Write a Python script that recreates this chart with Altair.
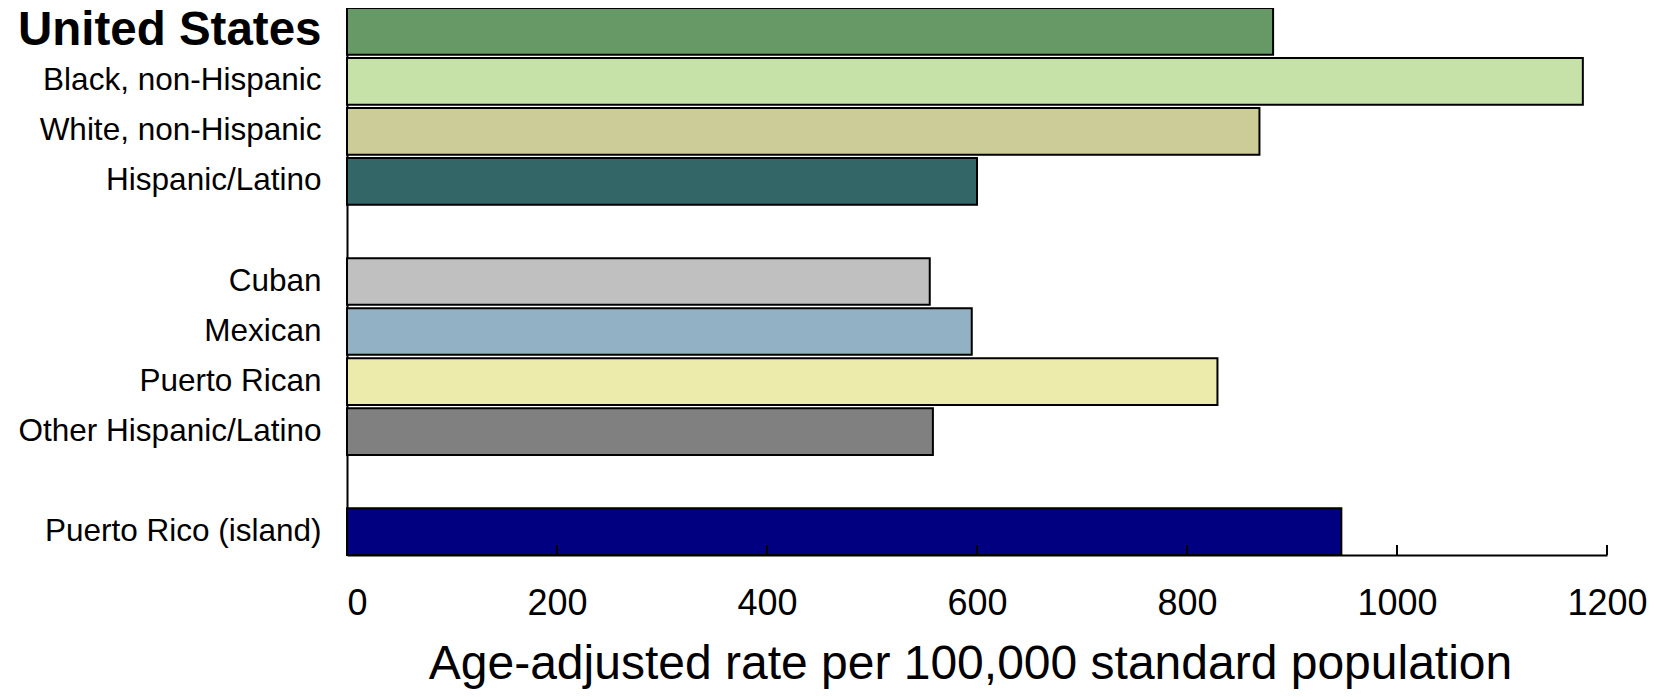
import altair as alt
import pandas as pd

# ---- data ----
categories = ["United States", "Black, non-Hispanic", "White, non-Hispanic", "Hispanic/Latino",
              "Cuban", "Mexican", "Puerto Rican", "Other Hispanic/Latino", "Puerto Rico (island)"]
values = [882, 1177, 869, 600, 555, 595, 829, 558, 947]
colors = ["#669966", "#C6E2A8", "#CCCC99", "#336666", "#C0C0C0", "#93B1C4", "#ECEBAC", "#808080", "#000080"]
row_order = ["United States", "Black, non-Hispanic", "White, non-Hispanic", "Hispanic/Latino", "gap1",
             "Cuban", "Mexican", "Puerto Rican", "Other Hispanic/Latino", "gap2", "Puerto Rico (island)"]
tick_values = [0, 200, 400, 600, 800, 1000, 1200]
x_title = "Age-adjusted rate per 100,000 standard population"

df = pd.DataFrame({"group": categories, "rate": values})
ticks_df = pd.DataFrame({"t": tick_values[1:]})

W, H = 1260, 547
FONT = "Liberation Sans"

x_scale = alt.Scale(domain=[tick_values[0], tick_values[-1]], nice=False, zero=True)
x_axis = alt.Axis(
    values=tick_values, title=x_title, grid=False, format="d",
    ticks=False, tickSize=0, labelPadding=31, labelFlush=False,
    labelAlign=alt.ExprRef(expr="datum.value == 0 ? 'left' : 'center'"),
    labelFont=FONT, labelFontSize=36, labelColor="black",
    domainColor="black", domainWidth=2,
    titleFont=FONT, titleFontSize=48, titleFontWeight="normal", titleColor="black",
    titleBaseline="top", titleY=85, titleX=623,
)

bars = alt.Chart(df).mark_bar(stroke="black", strokeWidth=2).encode(
    y=alt.Y(
        "group:N",
        sort=row_order,
        scale=alt.Scale(domain=row_order, paddingInner=0.068, paddingOuter=0),
        axis=alt.Axis(
            title=None, ticks=False, tickSize=0, labelPadding=26,
            domainColor="black", domainWidth=2,
            labelFont=FONT, labelColor="black", labelLimit=600,
            labelFontSize=alt.ExprRef(expr="datum.value == 'United States' ? 47.5 : 31.5"),
            labelFontWeight=alt.ExprRef(expr="datum.value == 'United States' ? 'bold' : 'normal'"),
            labelExpr="indexof(datum.value, 'gap') == 0 ? '' : datum.value",
        ),
    ),
    x=alt.X("rate:Q", scale=x_scale, axis=x_axis, title=x_title),
    color=alt.Color("group:N", scale=alt.Scale(domain=categories, range=colors), legend=None),
)

rules = alt.Chart(ticks_df).mark_rule(color="black", strokeWidth=2).encode(
    x=alt.X("t:Q", scale=x_scale, axis=x_axis, title=x_title),
    y=alt.value(H - 10),
    y2=alt.value(H),
)

chart = alt.layer(bars, rules).properties(
    width=W, height=H,
    padding={"left": 339, "top": 0, "right": 43, "bottom": 134},
    autosize=alt.AutoSizeParams(type="none"),
).configure_view(stroke=None)

chart.save("out.html", embed_options={"renderer": "svg", "actions": False})
